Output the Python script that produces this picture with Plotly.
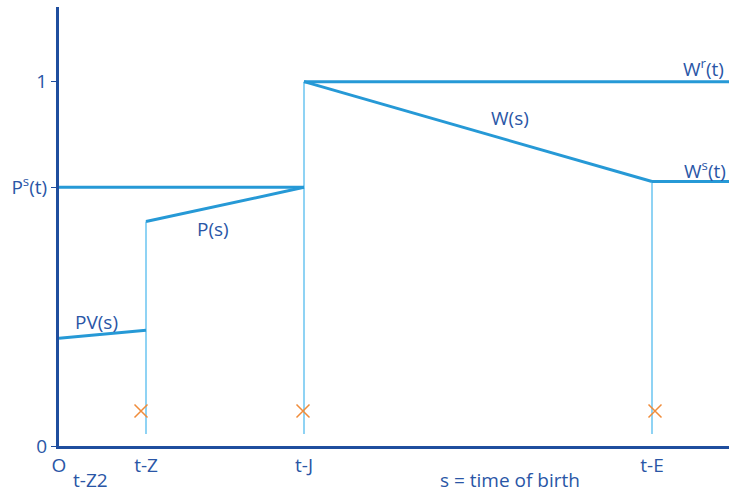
import plotly.graph_objects as go

# x positions (arbitrary units along the time-of-birth axis)
x_tZ = 87
x_tJ = 245
x_tE = 593
x_max = 670

# levels
ps_level = 0.71
p_start = 0.616
pv_start = 0.296
pv_end = 0.318
wr_level = 1.0
ws_level = 0.726
v_bottom = 0.033
y_max = 1.205

cross_x = [82, 244, 596]
cross_y = [0.096, 0.096, 0.096]

y_tickvals = [0, ps_level, 1]
y_ticktext = ["0", "P<sup>s</sup>(t)", "1"]
x_tickvals = [0, x_tZ, x_tJ, x_tE]
x_ticktext = ["O", "t-Z", "t-J", "t-E"]

LINE = "#2699d6"
THIN = "#8fd3f4"
AXIS = "#1f4e9e"
TEXT = "#2a56a6"
CROSS = "#f08c3a"
FONT = "Open Sans"
FS = 19

fig = go.Figure()

def seg(xs, ys, color=LINE, width=3):
    fig.add_trace(go.Scatter(x=xs, y=ys, mode="lines",
                             line=dict(color=color, width=width),
                             hoverinfo="skip", showlegend=False))

# thin verticals
seg([x_tZ, x_tZ], [v_bottom, p_start], THIN, 2)
seg([x_tJ, x_tJ], [v_bottom, wr_level], THIN, 2)
seg([x_tE, x_tE], [v_bottom, ws_level], THIN, 2)

# main lines
seg([0, x_tJ], [ps_level, ps_level])
seg([x_tZ, x_tJ], [p_start, ps_level])
seg([0, x_tZ], [pv_start, pv_end])
seg([x_tJ, x_max], [wr_level, wr_level])
seg([x_tJ, x_tE], [wr_level, ws_level])
seg([x_tE, x_max], [ws_level, ws_level])

fig.add_trace(go.Scatter(x=cross_x, y=cross_y, mode="markers",
                         marker=dict(symbol="x-thin", size=13,
                                     line=dict(color=CROSS, width=1.5)),
                         hoverinfo="skip", showlegend=False))

def ann(x, y, text, xanchor="center", yanchor="middle", yref="y"):
    fig.add_annotation(x=x, y=y, text=text, showarrow=False, xref="x", yref=yref,
                       xanchor=xanchor, yanchor=yanchor,
                       font=dict(family=FONT, size=FS, color=TEXT))

ann(37, 0.34, "PV(s)")
ann(154, 0.597, "P(s)")
ann(451, 0.90, "W(s)")
ann(667, 1.038, "W<sup>r</sup>(t)", xanchor="right")
ann(669, 0.757, "W<sup>s</sup>(t)", xanchor="right")
ann(31, -0.078, "t-Z2", yref="paper")
ann(451, -0.078, "s = time of birth", yref="paper")

fig.update_layout(
    width=729, height=494,
    margin=dict(l=59, r=0, t=7, b=48),
    paper_bgcolor="white", plot_bgcolor="white",
    font=dict(family=FONT, size=FS, color=TEXT),
    xaxis=dict(range=[0, x_max], showgrid=False, zeroline=False,
               showline=True, linecolor=AXIS, linewidth=3,
               tickvals=x_tickvals, ticktext=x_ticktext, ticks="",
               tickfont=dict(family=FONT, size=FS, color=TEXT)),
    yaxis=dict(range=[0, y_max], showgrid=False, zeroline=False,
               showline=True, linecolor=AXIS, linewidth=3,
               tickvals=y_tickvals, ticktext=y_ticktext, ticks="outside",
               ticklen=5, tickwidth=1, tickcolor=AXIS,
               tickfont=dict(family=FONT, size=FS, color=TEXT)),
)

fig.write_html("out.html", config={"displayModeBar": False},
               post_script="document.body.style.margin='0';document.body.style.overflow='hidden';")
